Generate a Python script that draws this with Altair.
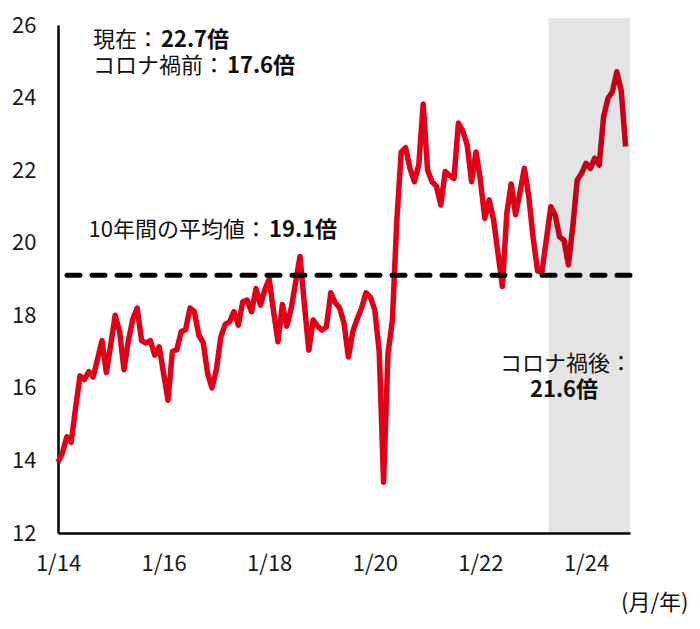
import altair as alt
import pandas as pd

# Monthly forward PER (times), Jan 2014 - Oct 2024
per = [
    13.95, 14.2, 14.65, 14.5, 15.45, 16.33, 16.23, 16.45, 16.3, 16.8,
    17.3, 16.42, 17.2, 18.0, 17.55, 16.5, 17.3, 17.9, 18.2, 17.3,
    17.23, 17.3, 16.9, 17.13, 16.4, 15.66, 17.0, 17.05, 17.55, 17.6,
    18.2, 18.1, 17.45, 17.25, 16.4, 16.0, 16.5, 17.4, 17.75, 17.82,
    18.1, 17.73, 18.37, 18.42, 18.1, 18.74, 18.28, 18.7, 19.0, 18.1,
    17.27, 18.3, 17.7, 18.19, 18.9, 19.62, 18.3, 17.04, 17.87, 17.7,
    17.59, 17.68, 18.62, 18.35, 18.2, 17.78, 16.85, 17.55, 17.9, 18.2,
    18.62, 18.5, 18.15, 17.0, 13.4, 16.95, 17.87, 20.6, 22.5, 22.62,
    22.05, 21.68, 22.15, 23.82, 22.0, 21.68, 21.56, 21.04, 21.96, 21.85,
    21.77, 23.3, 23.08, 22.69, 21.68, 22.5, 21.73, 20.67, 21.18, 20.63,
    19.71, 18.79, 20.81, 21.62, 20.77, 21.4, 22.05, 21.27, 20.12, 19.22,
    19.2, 20.1, 20.99, 20.76, 20.16, 20.07, 19.39, 20.44, 21.73, 21.91,
    22.19, 22.05, 22.33, 22.14, 23.47, 23.98, 24.16, 24.71, 24.2, 22.65,
]
avg_10y = 19.1
x_tick_months = [0, 24, 48, 72, 96, 120]
x_tick_labels = ["1/14", "1/16", "1/18", "1/20", "1/22", "1/24"]
y_ticks = [12, 14, 16, 18, 20, 22, 24, 26]
post_covid_start = 111.5   # month index (between Apr and May 2023)
post_covid_end = 130

df = pd.DataFrame({"m": list(range(len(per))), "per": per})

FONT = "Noto Sans CJK JP"
RED = "#E00018"
label_expr = "[" + ",".join(f"'{s}'" for s in x_tick_labels) + "][datum.value/24]"

x_enc = alt.X("m:Q", scale=alt.Scale(domain=[0, 130], nice=False, zero=False),
              axis=alt.Axis(values=x_tick_months, labelExpr=label_expr, title=None,
                            ticks=False, tickSize=0, grid=False, domainColor="#000",
                            domainWidth=2.5, labelFont=FONT, labelFontSize=22,
                            labelColor="#1a1a1a", labelPadding=20, labelFlush=False))
y_enc = alt.Y("per:Q", scale=alt.Scale(domain=[12, 26], nice=False, zero=False),
              axis=alt.Axis(values=y_ticks, title=None, ticks=False, tickSize=0, grid=False,
                            domainColor="#000", domainWidth=2.5, labelFont=FONT,
                            labelFontSize=22, labelColor="#1a1a1a", labelPadding=22,
                            labelFlush=False))

line = alt.Chart(df).mark_line(color=RED, strokeWidth=5.5, strokeJoin="round").encode(x=x_enc, y=y_enc)

avg_rule = alt.Chart(pd.DataFrame({"v": [avg_10y]})).mark_rule(
    color="#000", strokeWidth=5, strokeDash=[13, 12], strokeCap="round"
).encode(y="v:Q")

shade = alt.Chart(pd.DataFrame({"a": [post_covid_start], "b": [post_covid_end]})).mark_rect(
    color="#000", opacity=0.105
).encode(x="a:Q", x2="b:Q", y=alt.value(-7), y2=alt.value(508))

def txt(text, x, y, bold=False, align="left"):
    return alt.Chart(pd.DataFrame({"t": [text]})).mark_text(
        font=FONT, fontSize=22, fontWeight="bold" if bold else "normal",
        align=align, baseline="middle", color="#111"
    ).encode(text="t:N", x=alt.value(x), y=alt.value(y))

texts = [
    txt("現在：", 101, 15, align="right"), txt("22.7倍", 103, 15, bold=True),
    txt("コロナ禍前：", 167, 41, align="right"), txt("17.6倍", 169, 41, bold=True),
    txt("10年間の平均値：", 209, 205, align="right"), txt("19.1倍", 211, 205, bold=True),
    txt("コロナ禍後：", 442, 339), txt("21.6倍", 506, 365, bold=True, align="center"),
    txt("(月/年)", 563, 578),
]

chart = alt.layer(line, avg_rule, shade, *texts).properties(
    width=572, height=508,
    autosize=alt.AutoSizeParams(type="none"),
    padding={"left": 50, "top": 17, "right": 62, "bottom": 86},
).configure_view(stroke=None)

chart.save("out.html", embed_options={"renderer": "svg", "actions": False})
